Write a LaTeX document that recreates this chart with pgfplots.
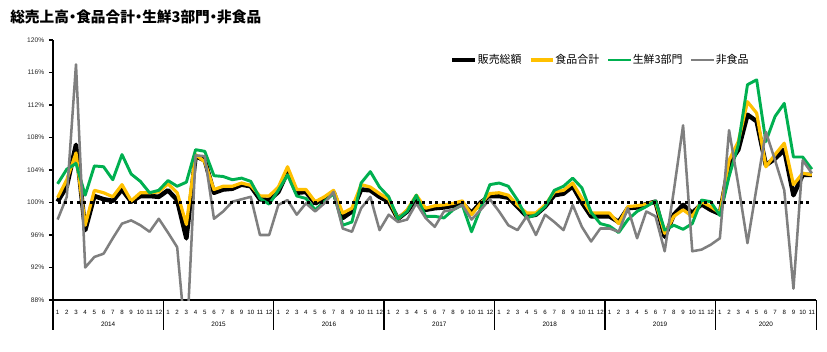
\documentclass[border=0pt]{standalone}
\usepackage{pgfplots}
\pgfplotsset{compat=1.18}
\usepackage{pgfplotstable}
\usepackage{fontspec}
\setmainfont{Liberation Sans}
\newfontfamily\jp{Noto Sans CJK JP}[RawFeature=+palt]
\definecolor{cyel}{HTML}{FFC000}
\definecolor{cgrn}{HTML}{00B050}
\definecolor{cgry}{HTML}{7F7F7F}
\pgfplotstableread{
m total food fresh nonfood
1 100.1 100.6 102.3 97.9
2 102.0 102.8 104.1 100.7
3 107.1 106.1 104.8 117.0
4 96.6 97.2 100.9 92.0
5 100.8 101.5 104.5 93.3
6 100.4 101.2 104.4 93.7
7 100.2 100.7 102.8 95.6
8 101.6 102.2 105.9 97.4
9 100.1 100.2 103.5 97.8
10 100.8 101.2 102.6 97.2
11 100.8 101.2 101.2 96.4
12 100.7 101.3 101.5 98.0
13 101.5 102.3 102.7 96.3
14 100.3 101.2 102.0 94.5
15 95.6 97.3 102.5 82.0
16 105.7 105.9 106.5 105.8
17 105.2 105.0 106.3 105.7
18 101.2 101.6 103.3 98.0
19 101.6 102.0 103.2 98.9
20 101.7 102.0 102.8 100.1
21 102.2 102.4 103.0 100.4
22 102.0 102.1 102.6 100.7
23 100.4 100.8 100.5 96.0
24 100.3 100.8 99.8 96.0
25 101.3 101.9 101.5 99.7
26 103.8 104.4 103.4 100.3
27 101.2 101.6 100.8 98.5
28 101.3 101.6 100.5 99.9
29 99.9 100.1 99.1 98.9
30 100.5 100.7 100.1 99.9
31 101.3 101.5 101.1 101.3
32 98.1 98.7 97.2 96.8
33 98.9 99.3 97.6 96.4
34 101.6 102.2 102.4 99.3
35 101.5 101.9 103.8 100.7
36 100.7 101.1 101.9 96.6
37 100.1 100.4 100.7 98.5
38 98.0 98.0 98.0 97.6
39 98.9 99.1 98.9 97.9
40 100.5 100.9 100.9 99.9
41 99.1 99.3 98.3 98.1
42 99.3 99.6 98.3 97.0
43 99.4 99.7 98.1 98.9
44 99.6 99.9 99.1 99.1
45 99.9 100.2 99.7 99.7
46 98.7 98.5 96.4 97.9
47 100.0 99.9 99.3 99.1
48 100.8 101.1 102.2 100.4
49 100.8 101.2 102.4 98.9
50 100.6 100.9 102.0 97.2
51 99.5 99.7 100.3 96.6
52 98.3 98.7 98.1 98.3
53 98.5 98.7 98.5 96.0
54 99.5 99.7 99.5 98.5
55 100.9 101.3 101.5 97.6
56 101.1 101.5 102.0 96.6
57 102.0 102.4 103.0 99.7
58 100.0 100.5 101.8 97.0
59 98.3 98.7 98.8 95.2
60 98.3 98.7 97.4 96.8
61 98.3 98.7 97.1 96.8
62 97.6 97.4 96.3 96.4
63 99.3 99.5 97.9 99.3
64 99.4 99.6 98.9 95.6
65 99.8 99.8 99.5 98.9
66 100.1 100.1 100.2 98.3
67 95.8 96.2 96.6 94.0
68 98.5 98.3 97.2 101.5
69 99.7 99.1 96.7 109.5
70 98.7 98.3 97.4 94.0
71 99.8 100.1 100.3 94.2
72 99.1 99.5 100.1 94.8
73 98.6 98.7 98.4 95.6
74 104.8 105.2 103.2 108.9
75 106.5 107.5 107.1 102.2
76 110.8 112.4 114.5 95.0
77 110.0 111.0 115.1 101.9
78 104.6 104.4 107.5 108.7
79 105.4 105.9 110.6 105.2
80 106.5 107.3 112.2 101.5
81 100.9 102.2 105.6 89.4
82 103.4 103.6 105.6 105.2
83 103.4 103.4 104.1 103.6
}\datatable
\begin{document}
\begin{tikzpicture}
\path[use as bounding box] (0,0) rectangle (620.25pt,263.25pt);
\node[anchor=west, inner sep=0pt, font=\jp\bfseries\fontsize{11}{12}\selectfont] at (7.5pt,250.5pt) {総売上高・食品合計・生鮮3部門・非食品};
\begin{axis}[
  at={(39.75pt,38.25pt)}, anchor=south west,
  width=572.6pt, height=195pt, scale only axis,
  xmin=0.5, xmax=83.5, ymin=88, ymax=120,
  axis x line*=bottom, axis y line*=left,
  axis line style={-, line width=1.1pt, black},
  clip mode=individual,
  ytick={88,92,...,120},
  yticklabel={\pgfmathprintnumber{\tick}\%},
  /pgf/number format/assume math mode=true,
  y tick label style={font=\fontsize{5}{6}\selectfont, color=black!85},
  y tick style={black, line width=0.8pt},
  tick align=outside, major tick length=3pt,
  xtick={1,...,83},
  x tick style={draw=none},
  xticklabel={\pgfmathparse{int(mod(round(\tick)-1,12)+1)}\pgfmathresult},
  x tick label style={font=\fontsize{4.6}{5}\selectfont, yshift=-1.5pt},
  legend style={at={(0.716,0.923)}, anchor=center, draw=none, fill=none,
    legend columns=4, font=\jp\fontsize{8.2}{9}\selectfont,
    /tikz/every even column/.append style={column sep=5pt},
    nodes={inner sep=0.5pt}},
  legend image code/.code={\draw[#1] (0pt,0pt) -- (17pt,0pt);},
]
\addplot[black, line width=3.4pt, line join=round] table[x=m, y=total] {\datatable};
\addlegendentry{販売総額}
\addplot[cyel, line width=2.4pt, line join=round] table[x=m, y=food] {\datatable};
\addlegendentry{食品合計}
\addplot[cgrn, line width=2.2pt, line join=round] table[x=m, y=fresh] {\datatable};
\addlegendentry{生鮮3部門}
\addplot[cgry, line width=1.9pt, line join=round] table[x=m, y=nonfood] {\datatable};
\addlegendentry{非食品}
\addplot[black, line width=2.2pt, dash pattern=on 2.2pt off 2.6pt, forget plot] coordinates {(1,100) (83,100)};
\pgfplotsinvokeforeach{0.5,12.5,24.5,36.5,48.5,60.5,72.5,83.5}{
  \draw[line width=1.1pt, black] (axis cs:#1,88) -- ++(0pt,-22.5pt);
}
\pgfplotsinvokeforeach{2014,2015,2016,2017,2018,2019}{
  \node[font=\fontsize{4.8}{5}\selectfont, inner sep=0pt] at (axis cs:{6.5+12*(#1-2014)},88) [yshift=-18pt] {#1};
}
\node[font=\fontsize{4.8}{5}\selectfont, inner sep=0pt] at (axis cs:78,88) [yshift=-18pt] {2020};
\end{axis}
\end{tikzpicture}
\end{document}
